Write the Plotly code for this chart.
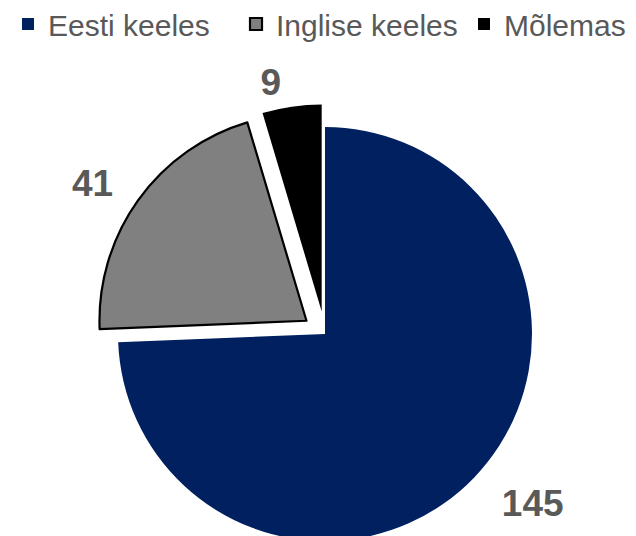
import plotly.graph_objects as go

labels = ['Eesti keeles', 'Inglise keeles', 'Mõlemas']
values = [145, 41, 9]
colors = ['#002060', '#808080', '#000000']
pulls = [0, 0.11, 0.11]

# page body has 8px margin, so positions below are in div pixels.
# figure is a bit larger than the window so the pie runs off the bottom edge
W, H = 700, 600
cx, cy, r = 317, 326, 207
r_lab = 225  # labels sit a bit further out than plotly's default
lab_shift = [6, 22.8, 8.8]  # px the label of each slice moves out along its slice


def pie_domain(radius, pull):
    box = radius * (2 + 2 * max(pull))
    return dict(
        x=[(cx - box / 2) / W, (cx + box / 2) / W],
        y=[(H - cy - box / 2) / H, (H - cy + box / 2) / H],
    )


lab_pulls = [s / r_lab for s in lab_shift]

fig = go.Figure()
fig.add_trace(go.Pie(
    labels=labels,
    values=values,
    sort=False,
    direction='clockwise',
    rotation=0,
    pull=pulls,
    marker=dict(colors=colors, line=dict(color=['#002060', '#000000', '#000000'], width=[0, 2.2, 0])),
    textinfo='none',
    domain=pie_domain(r, pulls),
    hoverinfo='label+value',
))

# transparent copy that only carries the value labels
fig.add_trace(go.Pie(
    labels=labels,
    values=values,
    sort=False,
    direction='clockwise',
    rotation=0,
    pull=lab_pulls,
    marker=dict(colors=['rgba(0,0,0,0)'] * 3, line=dict(width=0)),
    textinfo='value',
    textposition='outside',
    outsidetextfont=dict(size=37, color='#595959', family='Liberation Sans, Arial', weight='bold'),
    domain=pie_domain(r_lab, lab_pulls),
    showlegend=False,
    hoverinfo='skip',
))

fig.update_layout(
    width=W,
    height=H,
    margin=dict(l=0, r=0, t=0, b=0, autoexpand=False),
    paper_bgcolor='white',
    showlegend=True,
    legend=dict(
        orientation='h',
        x=0, y=1 + 10 / H, xanchor='left', yanchor='top',
        entrywidth=183,
        bgcolor='rgba(0,0,0,0)',
        font=dict(size=30, color='#595959', family='Liberation Sans, Arial'),
    ),
)

fig.write_html("out.html")
